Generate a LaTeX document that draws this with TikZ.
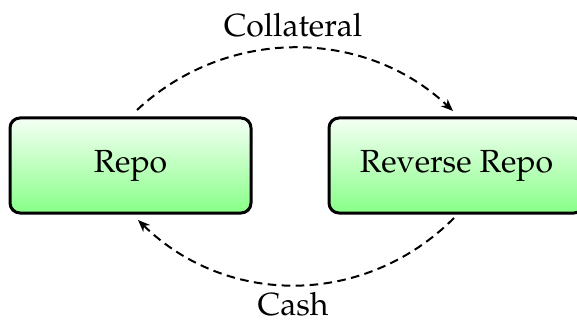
\documentclass[tikz,border=0pt]{standalone}
\usepackage[T1]{fontenc}
\usepackage{mathpazo}
\usetikzlibrary{arrows.meta,calc}
\begin{document}
\begin{tikzpicture}[x=0.5pt,y=-0.5pt,
  boxstyle/.style={draw=black, line width=1.5pt, rounded corners=5pt,
    top color=green!4, bottom color=green!47, minimum height=47.5pt,
    inner sep=0pt, font=\fontsize{16}{19}\selectfont},
  flow/.style={line width=1pt, dash pattern=on 4.3pt off 2.7pt,
    -{Stealth[length=6pt,width=4.8pt,inset=1.8pt]}},
  lbl/.style={font=\fontsize{16}{19}\selectfont, inner sep=0pt}]
\useasboundingbox (0,0) rectangle (577,320);
\node[boxstyle, minimum width=120.5pt] (repo) at (130.5,165.5) {Repo};
\node[boxstyle, minimum width=127.5pt] (rrepo) at (456.5,165.5) {Reverse Repo};
\coordinate (a1) at (137,110);
\coordinate (a2) at (453,111);
\coordinate (b1) at (454,218);
\coordinate (b2) at (138,220);
\draw[flow] (a1) .. controls (226,27) and (364,27) .. (a2);
\draw[flow] (b1) .. controls (365,307) and (227,307) .. (b2);
\node[lbl, anchor=base] (coll) at (293,37) {Collateral};
\node[lbl, anchor=base] (cash) at (293,315) {Cash};
\end{tikzpicture}
\end{document}
